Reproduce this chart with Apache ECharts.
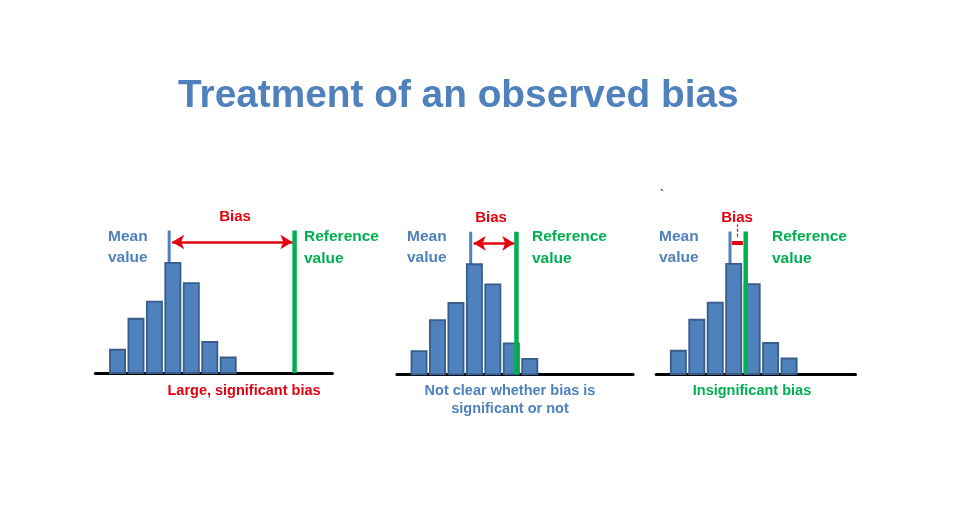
<!DOCTYPE html>
<html>
<head>
<meta charset="utf-8">
<script src="https://cdn.jsdelivr.net/npm/echarts@6/dist/echarts.min.js"></script>
<style>
  html, body { margin: 0; padding: 0; background: #fff; }
  #chart { width: 953px; height: 526px; }
</style>
</head>
<body>
<div id="chart"></div>
<script>
// histogram counts, bins at x = 1..7 (same sample in every panel)
const binPositions = [1, 2, 3, 4, 5, 6, 7];
const binCounts = [1.5, 3.5, 4.6, 7.1, 5.8, 2.0, 1.0];

// per panel: mean of the sample and reference value, in bin units
const meanValues = [3.8, 3.8, 3.8];
const referenceValues = [10.6, 6.28, 4.65];

const panelCaptions = [
  ['Large, significant bias'],
  ['Not clear whether bias is', 'significant or not'],
  ['Insignificant bias']
];

const BLUE = '#4F81BD';
const BLUE_EDGE = '#385D8A';
const GREEN = '#00B050';
const RED = '#E3000F';
const FONT = '"Liberation Sans", Arial, sans-serif';

const LINE_TOP = 9.2;
const ARROW_Y = 8.45;

// layout of the three small plots (px)
const panels = [
  { left: 95.4, top: 218, width: 237, xMax: 12.65 },
  { left: 396.9, top: 219.3, width: 236.2, xMax: 12.6 },
  { left: 656.2, top: 219, width: 199.3, xMax: 10.6 }
];

const chart = echarts.init(document.getElementById('chart'));

const grids = panels.map(p => ({ left: p.left, top: p.top, width: p.width, height: 155 }));
const xAxes = panels.map((p, i) => ({
  type: 'value', gridIndex: i, min: -0.2, max: p.xMax,
  axisLine: { show: true, onZero: false, lineStyle: { color: '#000', width: 3 } },
  axisTick: { show: false }, axisLabel: { show: false }, splitLine: { show: false }
}));
const yAxes = panels.map((p, i) => ({
  type: 'value', gridIndex: i, min: 0, max: 10, show: false
}));

const series = [];
panels.forEach((p, i) => {
  const mean = meanValues[i];
  const ref = referenceValues[i];
  const small = i === 2;

  // mean marker (behind the bars)
  series.push({
    type: 'line', xAxisIndex: i, yAxisIndex: i, z: 1, silent: true,
    symbol: 'none', data: [[mean, 0], [mean, LINE_TOP]],
    lineStyle: { color: BLUE, width: 3 }
  });

  // histogram bars
  series.push({
    type: 'custom', xAxisIndex: i, yAxisIndex: i, z: 2, silent: true,
    data: binPositions.map((x, k) => [x, binCounts[k]]),
    renderItem(params, api) {
      const x = api.value(0);
      const y = api.value(1);
      const a = api.coord([x - 0.41, y]);
      const b = api.coord([x + 0.41, 0]);
      return {
        type: 'rect',
        shape: { x: a[0], y: a[1], width: b[0] - a[0], height: b[1] - a[1] },
        style: { fill: BLUE, stroke: BLUE_EDGE, lineWidth: 1.8 }
      };
    }
  });

  // reference value + bias marker
  const biasLines = [[
    { coord: [mean + (small ? 0.1 : 0.16), ARROW_Y] },
    { coord: [ref - (small ? 0.15 : 0.12), ARROW_Y] }
  ]];
  if (small) {
    const mid = (mean + ref) / 2 - 0.06;
    biasLines.push([
      { coord: [mid, 8.85], lineStyle: { type: [3, 2], width: 1.2 } },
      { coord: [mid, 9.65] }
    ]);
  }
  series.push({
    type: 'line', xAxisIndex: i, yAxisIndex: i, z: 3, silent: true,
    symbol: 'none', data: [[ref, 0], [ref, LINE_TOP]],
    lineStyle: { color: GREEN, width: 4.5 },
    markLine: {
      silent: true,
      symbol: small ? ['none', 'none'] : ['arrow', 'arrow'],
      symbolSize: [11, 12],
      label: { show: false },
      lineStyle: { color: RED, width: small ? 4 : 2.6, type: 'solid' },
      emphasis: { disabled: true },
      animation: false,
      data: biasLines
    }
  });
});

function txt(x, y, text, color, size, align) {
  return {
    type: 'text', x: x, y: y, silent: true,
    style: {
      text: text, fill: color, font: 'bold ' + size + 'px ' + FONT,
      textAlign: align || 'left', textVerticalAlign: 'middle'
    }
  };
}

const labelPos = [
  { bias: [235, 216], mean: 108, ref: 304, capX: 244 },
  { bias: [491, 217], mean: 407, ref: 532, capX: 510 },
  { bias: [737, 217], mean: 659, ref: 772, capX: 752 }
];
const captionColors = [RED, BLUE, GREEN];

const graphic = [txt(178, 96.5, 'Treatment of an observed bias', BLUE, 38.8)];
labelPos.forEach((l, i) => {
  graphic.push(txt(l.bias[0], l.bias[1] + 1, 'Bias', RED, 15, 'center'));
  graphic.push(txt(l.mean, 237, 'Mean', BLUE, 15.5));
  graphic.push(txt(l.mean, 258, 'value', BLUE, 15.5));
  graphic.push(txt(l.ref, 237, 'Reference', GREEN, 15.5));
  graphic.push(txt(l.ref, 258.5, 'value', GREEN, 15.5));
  panelCaptions[i].forEach((line, k) => {
    graphic.push(txt(l.capX, 391 + k * 18, line, captionColors[i], 14.5, 'center'));
  });
});
graphic.push(txt(662, 196, '`', '#8B1A1A', 12, 'center'));

chart.setOption({
  backgroundColor: '#fff',
  animation: false,
  grid: grids,
  xAxis: xAxes,
  yAxis: yAxes,
  series: series,
  graphic: graphic
});
</script>
</body>
</html>
